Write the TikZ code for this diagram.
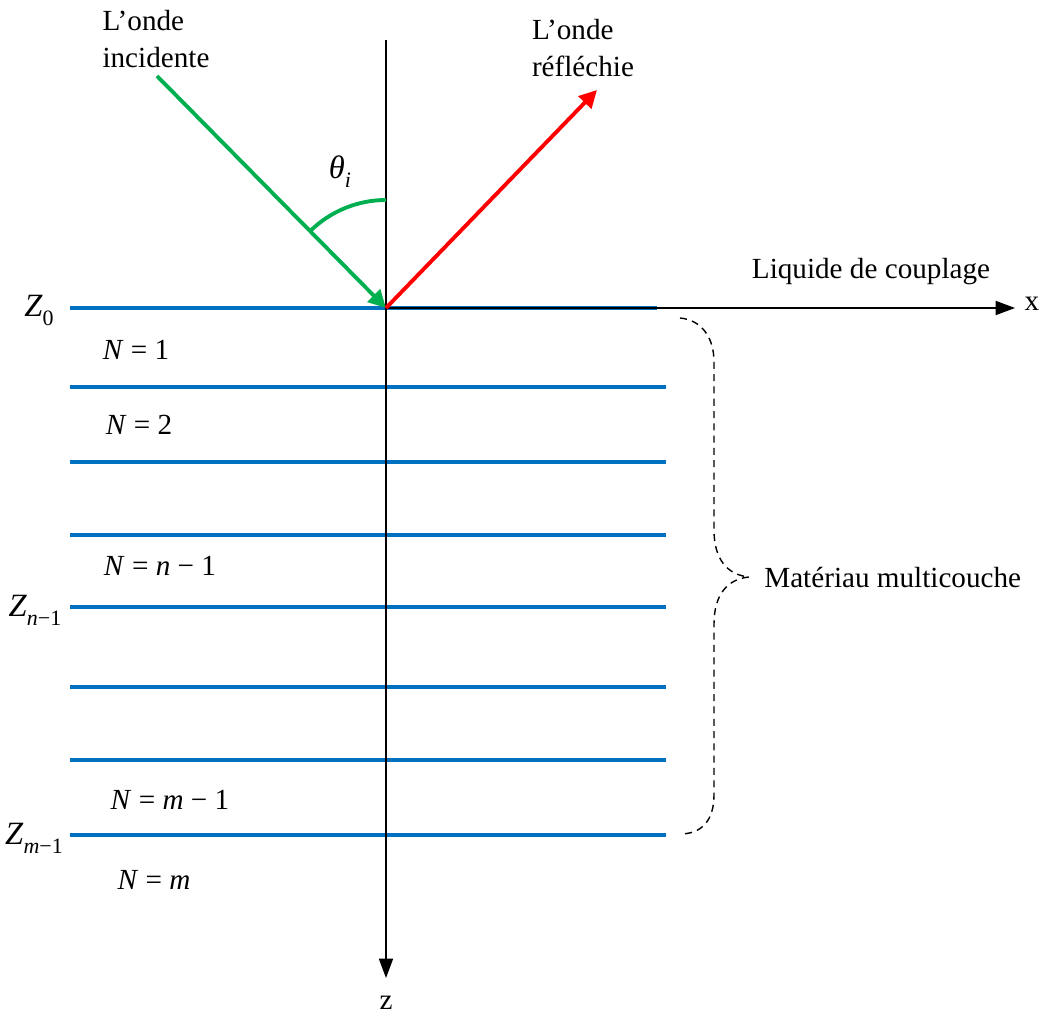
\documentclass[tikz,border=0pt]{standalone}
\usepackage{fontspec}
\setmainfont{Liberation Serif}
\usetikzlibrary{arrows.meta}
\definecolor{layerblue}{RGB}{0,112,192}
\definecolor{incgreen}{RGB}{0,176,80}
\newcommand{\varsub}[2]{\textit{#1}\raisebox{-0.6ex}{\fontsize{12.5}{13}\selectfont #2}}
\tikzset{
  axis/.style={line width=0.8pt, -{Triangle[length=11pt,width=8pt]}},
  layer/.style={layerblue, line width=2.2pt},
  wave/.style={line width=2.2pt, -{Triangle[length=10pt,width=10pt]}},
  lbl/.style={font=\fontsize{16.6}{21.5}\selectfont, inner sep=0pt},
  mlbl/.style={font=\fontsize{18.5}{22}\selectfont, inner sep=0pt},
  brace/.style={line width=0.8pt, dash pattern=on 4pt off 3pt},
}
\begin{document}
\begin{tikzpicture}[x=0.02cm, y=-0.02cm]
  \useasboundingbox (0,0) rectangle (1046,1021);
  % origine et axes
  \coordinate (O) at (386,308);
  \coordinate (ztop) at (386,40);
  \coordinate (zend) at (386,978);
  \coordinate (xend) at (1015,308);

  % interfaces des couches
  \foreach \name/\y/\xe in {l0/308/657, l1/387/666, l2/462/666, l3/535/666,
                            l4/607/666, l5/687/666, l6/760/666, l7/835/666}
    \draw[layer] (70,\y) coordinate (\name-w) -- (\xe,\y) coordinate (\name-e);

  \draw[line width=0.8pt] (ztop) -- (O);
  \draw[axis] (O) -- (zend);
  \draw[axis] (O) -- (xend);
  \node[lbl] (zlab) at (386,1003) {z};
  \node[lbl] (xlab) at (1032,304) {x};

  % ondes
  \coordinate (inc) at (157,76);
  \coordinate (refl) at (597,90);
  \draw[wave, incgreen] (inc) -- (O);
  \draw[wave, red] (O) -- (refl);
  \draw[incgreen, line width=2.2pt] (O) ++(0,-108) arc[start angle=90, end angle=134.6, radius=2.16cm];
  \node[mlbl] (theta) at (340,172) {\varsub{θ}{\textit{i}}};

  \node[lbl, align=left] (inclab) at (156,39) {L’onde\\incidente};
  \node[lbl, align=left] (refllab) at (583,48) {L’onde\\réfléchie};
  \node[lbl] (liquide) at (871,272) {Liquide de couplage};

  % cotes et couches
  \node[mlbl] (z0) at (39,310) {\varsub{Z}{0}};
  \node[mlbl] (zn) at (35,610) {\varsub{Z}{\textit{n}−1}};
  \node[mlbl] (zm) at (34,838) {\varsub{Z}{\textit{m}−1}};
  \node[lbl] (n1) at (136,350) {\textit{N} = 1};
  \node[lbl] (n2) at (139,425) {\textit{N} = 2};
  \node[lbl] (nn) at (160,566) {\textit{N} = \textit{n} − 1};
  \node[lbl] (nm1) at (170,800) {\textit{N} = \textit{m} − 1};
  \node[lbl] (nm) at (154,880) {\textit{N} = \textit{m}};

  % accolade
  \coordinate (btop) at (680,318);
  \coordinate (bbot) at (680,834);
  \coordinate (btip) at (749,577);
  \draw[brace] (btop) .. controls (702,320) and (714,338) .. (714,362)
    -- (714,530) .. controls (714,560) and (728,575) .. (btip)
    .. controls (728,579) and (714,594) .. (714,624)
    -- (714,795) .. controls (714,820) and (702,834) .. (bbot);
  \node[lbl, anchor=west] (materiau) at (764,577) {Matériau multicouche};
\end{tikzpicture}
\end{document}
